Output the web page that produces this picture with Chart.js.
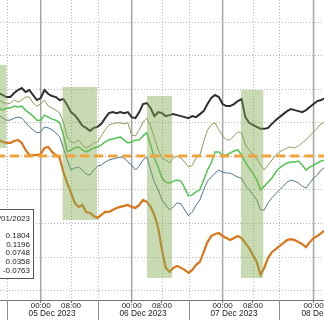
<!DOCTYPE html>
<html><head><meta charset="utf-8">
<script src="https://cdn.jsdelivr.net/npm/chart.js@4.4.0/dist/chart.umd.min.js"></script>
<style>html,body{margin:0;padding:0;background:#fff;overflow:hidden}#wrap{width:324px;height:320px;position:relative}</style>
</head><body><div id="wrap"><canvas id="c"></canvas></div>
<script>
// hours relative to 05 Dec 2023 00:00
const hours = [-11,-10,-9,-8,-7,-6,-5,-4,-3,-2,-1,0,1,2,3,4,5,6,7,8,9,10,11,12,13,14,15,16,17,18,19,20,21,22,23,24,25,26,27,28,29,30,31,32,33,34,35,36,37,38,39,40,41,42,43,44,45,46,47,48,49,50,51,52,53,54,55,56,57,58,59,60,61,62,63,64,65,66,67,68,69,70,71,72,73,74,75];
const seriesBlack = [1.88,1.82,1.76,1.76,1.88,1.97,2.03,1.91,1.97,1.82,
 1.67,1.73,1.97,1.85,1.79,1.76,1.67,1.70,1.52,1.31,
 1.22,1.07,0.90,0.84,0.75,0.84,0.87,0.96,1.13,1.28,
 1.31,1.28,1.31,1.28,1.31,1.16,1.13,1.31,1.55,1.58,
 1.43,1.19,1.31,1.28,1.19,1.22,1.25,1.22,1.19,1.16,
 1.13,1.19,1.16,1.25,1.34,1.55,1.73,1.82,1.76,1.55,
 1.49,1.49,1.55,1.64,1.70,1.16,0.99,0.93,0.87,0.81,
 0.81,0.84,0.96,1.07,1.16,1.25,1.34,1.40,1.37,1.34,
 1.31,1.37,1.46,1.55,1.64,1.67,1.73];
const seriesOlive = [1.67,1.61,1.55,1.58,1.67,1.61,1.67,1.76,1.76,1.58,
 1.49,1.55,1.67,1.49,1.43,1.37,1.28,1.01,0.57,0.42,
 0.39,0.48,0.33,0.24,0.30,0.39,0.42,0.60,0.78,0.93,
 0.96,0.99,0.99,0.96,0.99,0.63,0.60,0.78,1.01,1.13,
 0.90,0.54,0.18,-0.06,-0.12,-0.21,-0.06,0.00,-0.06,-0.18,
 -0.33,-0.27,-0.06,0.03,0.42,0.78,0.93,0.99,0.78,0.60,
 0.48,0.48,0.60,0.72,0.69,0.33,0.18,0.03,-0.06,-0.27,
 -0.42,-0.27,-0.12,0.03,0.12,0.18,0.24,0.27,0.24,0.30,
 0.39,0.48,0.60,0.72,0.84,0.96,1.01];
const seriesGreen = [1.43,1.37,1.43,1.43,1.49,1.46,1.49,1.37,1.28,1.19,
 1.07,1.07,1.22,1.16,1.10,1.07,0.99,0.63,0.12,0.18,
 0.24,0.27,0.18,0.12,0.18,0.24,0.27,0.33,0.42,0.48,
 0.51,0.54,0.57,0.48,0.39,0.42,0.48,0.48,0.60,0.69,
 0.33,-0.06,-0.33,-0.66,-0.78,-0.81,-0.75,-0.72,-0.75,-0.96,
 -1.19,-1.16,-1.07,-1.01,-0.72,-0.42,-0.21,0.12,0.12,0.03,
 0.03,0.09,0.15,0.18,0.03,-0.18,-0.36,-0.51,-0.72,-1.01,
 -0.90,-0.78,-0.66,-0.48,-0.36,-0.27,-0.21,-0.18,-0.18,-0.15,
 -0.27,-0.42,-0.33,-0.27,-0.21,-0.15,-0.12];
const seriesBlue = [1.22,1.13,1.07,1.07,1.13,1.16,1.13,1.01,0.87,0.78,
 0.69,0.72,0.87,0.84,0.78,0.69,0.57,0.24,-0.12,-0.42,
 -0.36,-0.33,-0.42,-0.54,-0.57,-0.42,-0.30,-0.27,-0.18,-0.12,
 -0.09,-0.06,-0.03,-0.06,-0.18,-0.27,-0.42,-0.30,-0.12,-0.03,
 -0.42,-0.78,-1.01,-1.31,-1.46,-1.61,-1.52,-1.40,-1.43,-1.61,
 -1.79,-1.67,-1.46,-1.31,-1.01,-0.75,-0.63,-0.51,-0.42,-0.48,
 -0.51,-0.51,-0.57,-0.63,-0.66,-0.87,-1.01,-1.16,-1.31,-1.61,
 -1.61,-1.40,-1.25,-1.13,-1.01,-0.90,-0.78,-0.72,-0.75,-0.81,
 -0.90,-0.96,-0.81,-0.66,-0.57,-0.42,-0.33];
const seriesOrange = [0.48,0.42,0.39,0.39,0.45,0.48,0.39,0.18,0.03,0.03,
 0.03,0.06,0.24,0.27,0.12,0.03,-0.06,-0.48,-0.81,-1.10,
 -1.40,-1.52,-1.46,-1.67,-1.70,-1.79,-1.85,-1.76,-1.67,-1.67,
 -1.61,-1.55,-1.52,-1.49,-1.46,-1.52,-1.55,-1.46,-1.31,-1.37,
 -1.52,-1.76,-2.15,-2.81,-3.34,-3.46,-3.34,-3.28,-3.34,-3.40,
 -3.49,-3.40,-3.25,-3.16,-2.87,-2.57,-2.39,-2.33,-2.30,-2.39,
 -2.45,-2.51,-2.45,-2.39,-2.45,-2.60,-2.75,-2.96,-3.16,-3.55,
 -3.34,-3.04,-2.87,-2.78,-2.69,-2.60,-2.51,-2.48,-2.51,-2.57,
 -2.63,-2.72,-2.57,-2.45,-2.39,-2.30,-2.21];
const referenceLevel = 0;

const legendHeader = "01/01/2023";
const legendValues = ["0.1804","0.1196","0.0748","0.0358","-0.0763"];

const timeTicks = [0,8,24,32,48,56,72];
const timeLabels = ["00:00","08:00","00:00","08:00","00:00","08:00","00:00"];
const dateTicks = [3,27,51,75];
const dateLabels = ["05 Dec 2023","06 Dec 2023","07 Dec 2023","08 Dec 2023"];
const dayHours = [0,24,48,72];
const dottedHours = [-9,8,15,32,39,56,63];
const sessionHours = [-9,15,39,63];
const gridValues = [-4,-3,-2,-1,0,1,2,3,4];

const shadeStart = [-12,5.75,28.05,52.85];
const shadeEnd = [-9.0,14.85,34.64,58.73];
const shadeHigh = [2.72,2.06,1.79,1.97];
const shadeLow = [0.24,-1.91,-3.64,-3.64];

const X_MIN = -10.74, X_MAX = 74.75;
const Y_MIN = -4.2985, Y_MAX = 4.6567;
const FONT = "'Liberation Sans', Arial, sans-serif";

function pts(arr){ return hours.map((h,i)=>({x:h,y:arr[i]})); }

const decor = {
  id:'decor',
  beforeDatasetsDraw(chart){
    const {ctx, chartArea:a, scales:{x,y}} = chart;
    ctx.save();
    ctx.strokeStyle = '#b5b5b5'; ctx.lineWidth = 1; ctx.setLineDash([1,2]);
    gridValues.forEach(v=>{ const py=Math.round(y.getPixelForValue(v))+0.5; ctx.beginPath(); ctx.moveTo(a.left,py); ctx.lineTo(a.right,py); ctx.stroke(); });
    dottedHours.forEach(h=>{ const px=Math.round(x.getPixelForValue(h))+0.5; ctx.beginPath(); ctx.moveTo(px,a.top); ctx.lineTo(px,a.bottom); ctx.stroke(); });
    ctx.setLineDash([]); ctx.strokeStyle='#a6a6a6'; ctx.lineWidth=1.5;
    dayHours.forEach(h=>{ const px=x.getPixelForValue(h); ctx.beginPath(); ctx.moveTo(px,a.top); ctx.lineTo(px,a.bottom); ctx.stroke(); });
    ctx.restore();
  },
  afterDatasetDraw(chart, args){
    if(args.index !== 1) return;
    const {ctx, chartArea:a, scales:{x,y}} = chart;
    ctx.save();
    ctx.beginPath(); ctx.rect(a.left,a.top,a.right-a.left,a.bottom-a.top); ctx.clip();
    ctx.fillStyle='rgba(130,172,82,0.45)';
    shadeStart.forEach((s,i)=>{
      const x0=x.getPixelForValue(s), x1=x.getPixelForValue(shadeEnd[i]);
      const y0=y.getPixelForValue(shadeHigh[i]), y1=y.getPixelForValue(shadeLow[i]);
      ctx.fillRect(x0,y0,x1-x0,y1-y0);
    });
    ctx.restore();
  },
  afterDraw(chart){
    const {ctx, chartArea:a, scales:{x}} = chart;
    ctx.save();
    ctx.strokeStyle='#8c8c8c'; ctx.lineWidth=1;
    sessionHours.forEach(h=>{ const px=Math.round(x.getPixelForValue(h))+0.5; ctx.beginPath(); ctx.moveTo(px,a.bottom); ctx.lineTo(px,chart.height); ctx.stroke(); });
    // legend box
    ctx.fillStyle='#fff'; ctx.fillRect(-2,209,36,69);
    ctx.strokeStyle='#555'; ctx.lineWidth=1; ctx.strokeRect(-2.5,209.5,36,69);
    ctx.fillStyle='#222'; ctx.font='8px '+FONT; ctx.textAlign='right'; ctx.textBaseline='middle';
    ctx.fillText(legendHeader,30,218.5);
    legendValues.forEach((v,i)=>{ ctx.fillText(v,30,236+i*8.6); });
    ctx.restore();
  }
};

new Chart(document.getElementById('c'), {
  type:'line',
  data:{datasets:[
    {label:'ref', data:[{x:X_MIN-1,y:referenceLevel},{x:X_MAX+1,y:referenceLevel}], borderColor:'#f0a33a', borderWidth:3, borderDash:[9,5]},
    {label:'A', data:pts(seriesBlack), borderColor:'#2f2f2f', borderWidth:2},
    {label:'B', data:pts(seriesOlive), borderColor:'#8e9c5c', borderWidth:1},
    {label:'C', data:pts(seriesGreen), borderColor:'#52c452', borderWidth:1.5},
    {label:'D', data:pts(seriesBlue), borderColor:'#4f7591', borderWidth:1},
    {label:'E', data:pts(seriesOrange), borderColor:'#d9761c', borderWidth:2.2}
  ]},
  options:{
    responsive:true, maintainAspectRatio:false, animation:false,
    layout:{padding:0},
    elements:{point:{radius:0}, line:{tension:0, fill:false}},
    plugins:{legend:{display:false}, tooltip:{enabled:false}},
    scales:{
      x:{type:'linear', position:'bottom', min:X_MIN, max:X_MAX, weight:0,
        afterBuildTicks:s=>{ s.ticks = timeTicks.map(v=>({value:v})); },
        afterFit:s=>{ s.height=9; s.paddingLeft=0; s.paddingRight=0; },
        ticks:{autoSkip:false, minRotation:0, maxRotation:0, padding:-2, color:'#222', font:{family:FONT, size:8},
          callback:(v,i)=>timeLabels[i]},
        grid:{drawOnChartArea:false, drawTicks:true, tickLength:3, color:'#777'},
        border:{display:true, color:'#777', width:1}
      },
      x2:{type:'linear', position:'bottom', min:X_MIN, max:X_MAX, weight:1,
        afterBuildTicks:s=>{ s.ticks = dateTicks.map(v=>({value:v})); },
        afterFit:s=>{ s.height=11; s.paddingLeft=0; s.paddingRight=0; },
        ticks:{autoSkip:false, minRotation:0, maxRotation:0, padding:0, color:'#222', font:{family:FONT, size:8.3},
          callback:(v,i)=>dateLabels[i]},
        grid:{display:false, drawTicks:false},
        border:{display:false}
      },
      y:{display:false, min:Y_MIN, max:Y_MAX}
    }
  },
  plugins:[decor]
});
</script></body></html>
